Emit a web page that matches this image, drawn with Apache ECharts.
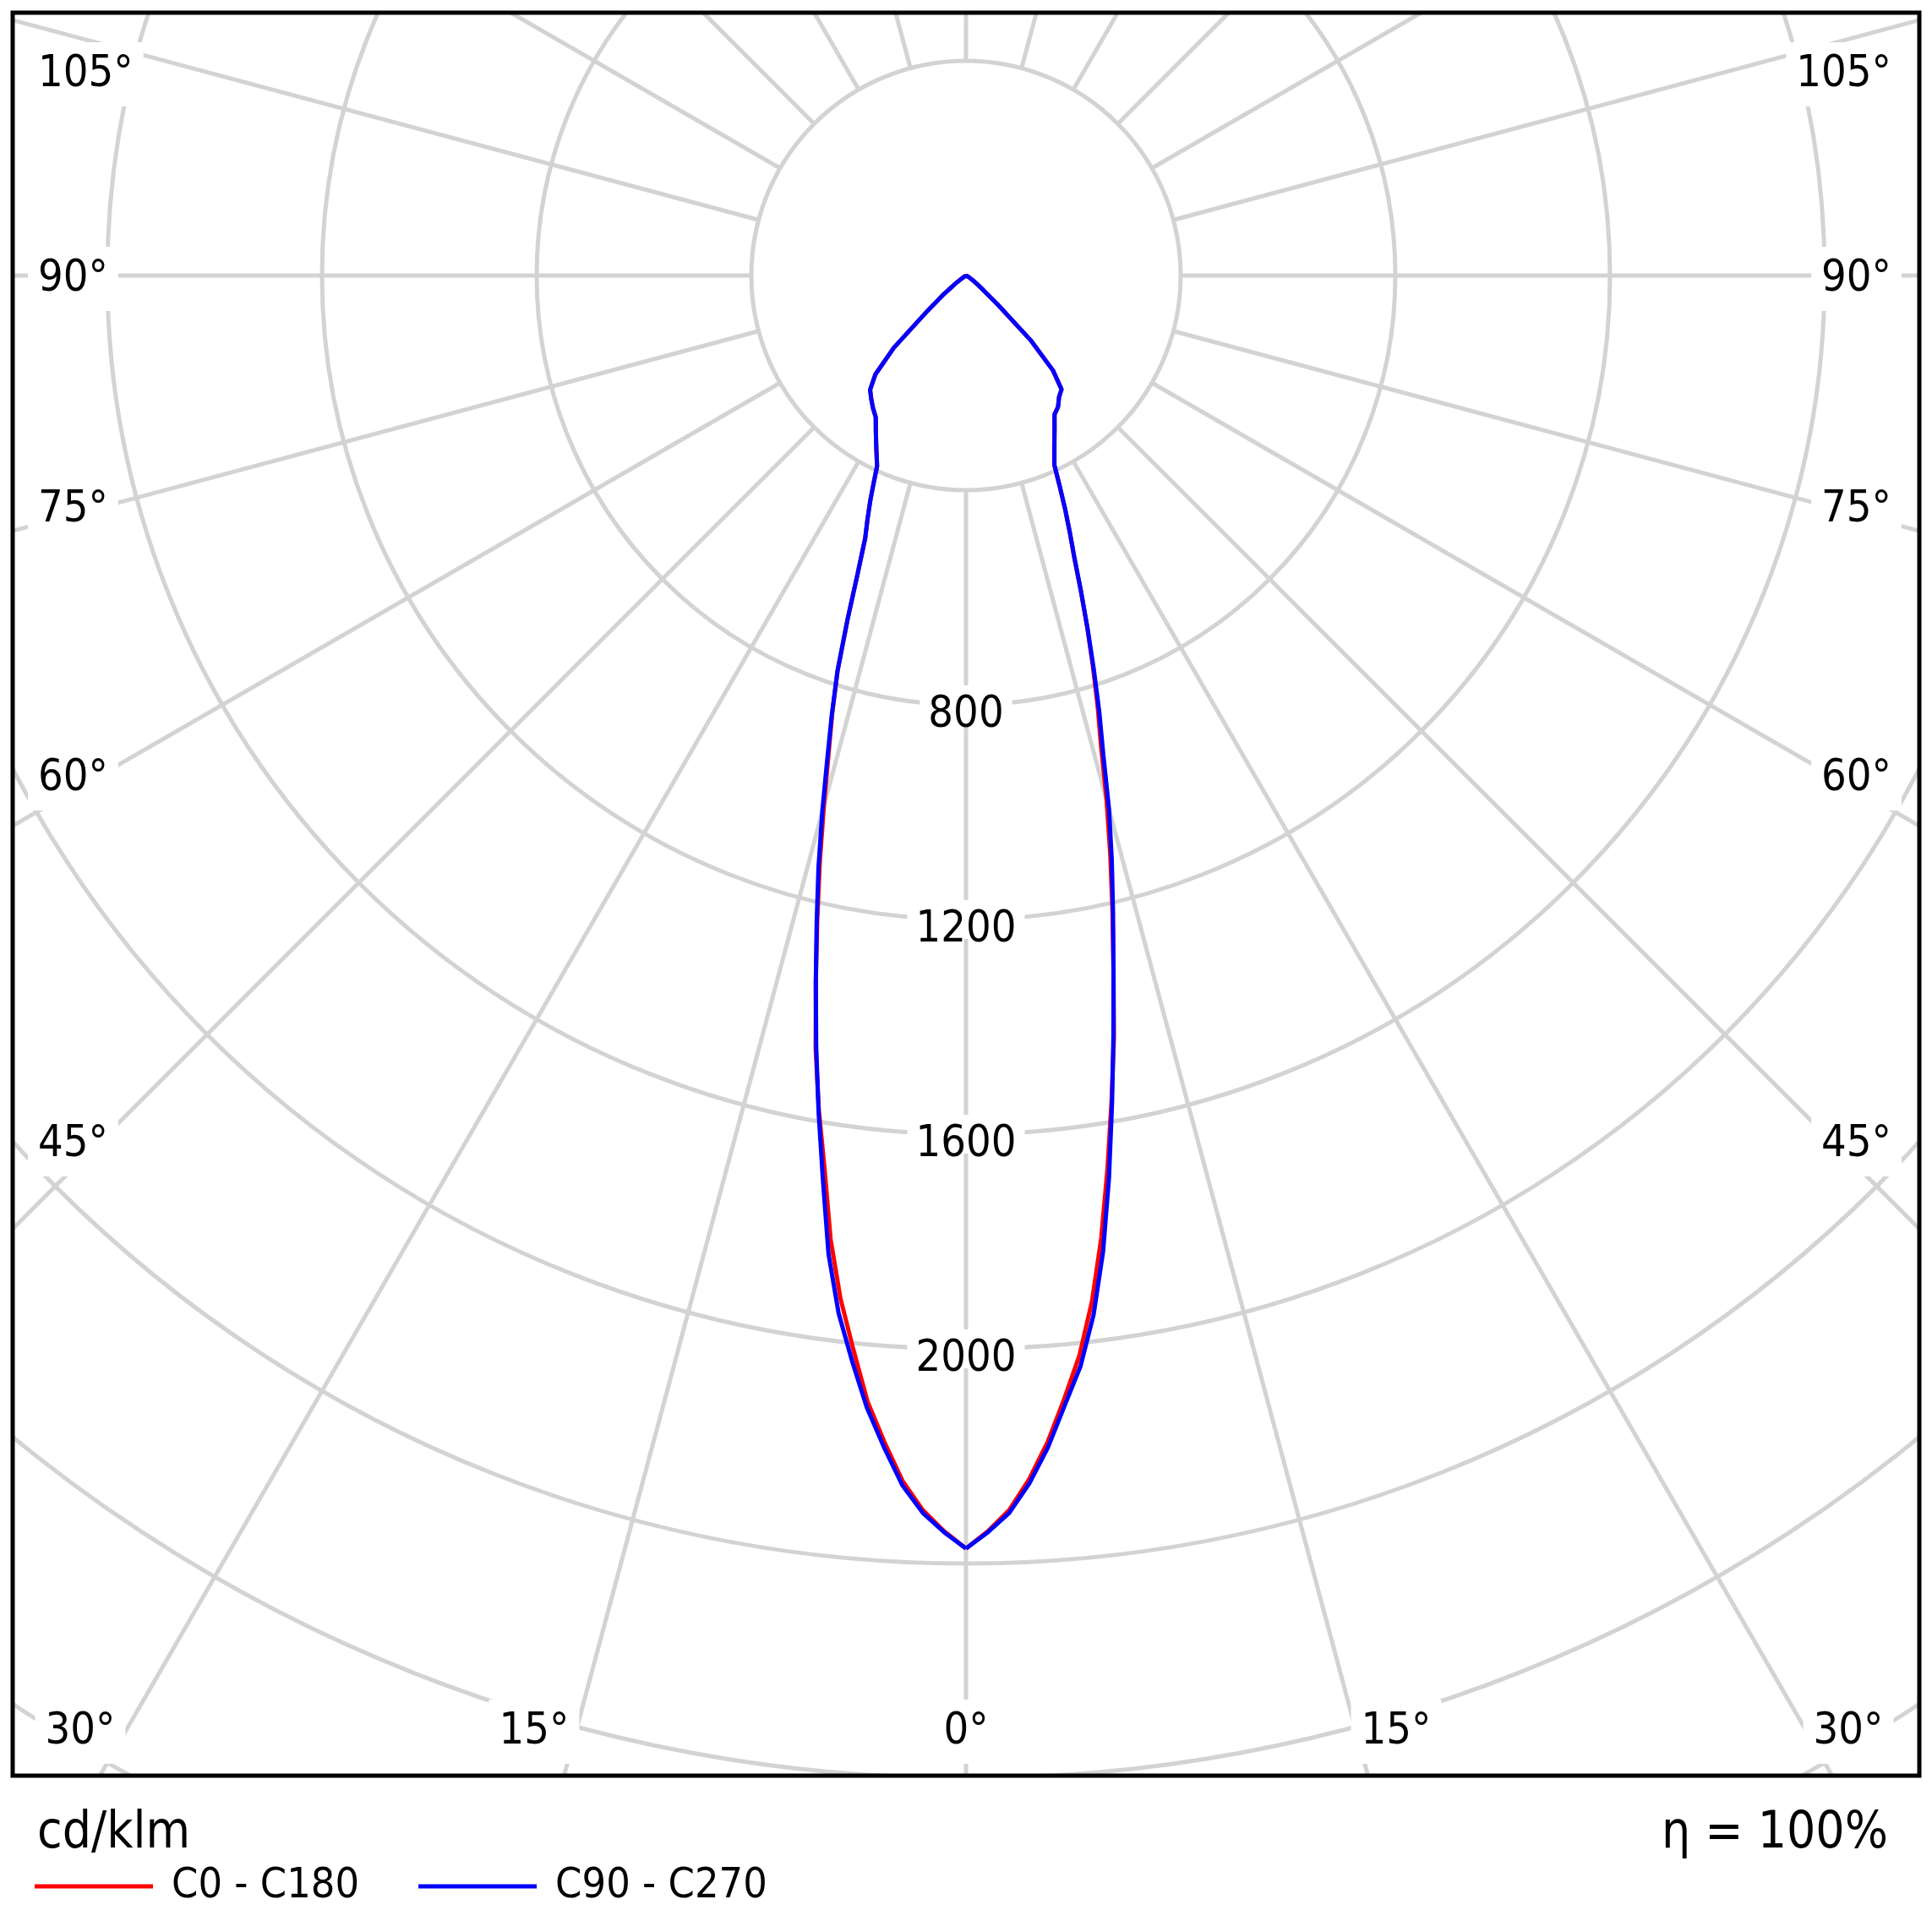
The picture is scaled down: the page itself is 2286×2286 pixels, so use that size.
<!DOCTYPE html>
<html lang="en">
<head>
<meta charset="utf-8" />
<title>Light distribution curve</title>
<style>
    html, body { margin: 0; padding: 0; background: #fff; }
    #main { width: 2286px; height: 2286px; }
</style>
</head>
<body>
<div id="main"></div>

<script src="https://cdn.jsdelivr.net/npm/echarts@6/dist/echarts.min.js"></script>
<script type="text/javascript">
    // gamma angles, degrees from nadir
    var gamma = [0, 1, 2, 3, 4, 5, 6, 7, 8, 9, 10, 11, 12, 13, 14, 15, 16, 17, 18, 19, 20, 21, 22, 23, 24, 25,
        27.5, 30, 32.5, 35, 37.5, 40, 42.5, 45, 47.5, 50, 52.5, 55, 60, 70, 80, 90, 180];
    // cd/klm
    var c0 = [2372, 2340, 2302, 2246, 2179, 2101, 2023, 1926, 1811, 1685, 1562, 1445, 1322, 1213, 1111, 1012, 913, 839, 765, 694, 626, 563, 516, 472, 428, 389,
        356, 330, 307, 299, 285, 277, 240, 170, 80, 42, 25, 15, 6, 2, 0, 0, 0];
    var c180 = [2372, 2340, 2302, 2250, 2179, 2106, 2011, 1920, 1813, 1685, 1579, 1468, 1346, 1232, 1126, 1023, 930, 852, 774, 678, 589, 524, 490, 457, 423, 392,
        362, 336, 313, 302, 290, 278, 250, 190, 96, 54, 25, 10, 3, 0, 0, 0, 0];
    var c90 = [2372, 2342, 2307, 2254, 2189, 2113, 2043, 1951, 1836, 1703, 1567, 1440, 1322, 1218, 1123, 1030, 928, 849, 770, 696, 627, 564, 517, 473, 429, 390,
        357, 330, 307, 299, 285, 277, 240, 170, 80, 42, 25, 15, 6, 2, 0, 0, 0];
    var c270 = [2372, 2342, 2307, 2258, 2189, 2118, 2033, 1948, 1841, 1705, 1582, 1463, 1346, 1237, 1136, 1035, 938, 855, 775, 678, 589, 524, 490, 457, 423, 392,
        362, 336, 313, 302, 290, 278, 250, 190, 96, 54, 25, 10, 3, 0, 0, 0, 0];

    var radiusTicks = [800, 1200, 1600, 2000];
    var sideLabels = ['105°', '90°', '75°', '60°', '45°'];
    var bottomLabels = ['30°', '15°', '0°', '15°', '30°'];
    var legendNames = ['C0 - C180', 'C90 - C270'];
    var unitText = 'cd/klm';
    var etaText = 'η = 100%';

    // layout
    var FONT = "'DejaVu Sans Condensed', 'DejaVu Sans', sans-serif";
    var GRID = '#d3d3d3';
    var cx = 1143, cy = 326;
    var pxPerUnit = 254 / 400;
    var rMax = 3600;
    var sideLabelY = [88, 330, 603, 921, 1354];
    var bottomLabelX = [95, 632, 1143, 1652, 2187];
    var bottomLabelY = 2049;

    // right half goes 0..180, left half comes back as 360-gamma
    function buildCurve(right, left) {
        var pts = [];
        for (var i = 0; i < gamma.length; i++) {
            pts.push([right[i], gamma[i]]);
        }
        for (var j = gamma.length - 1; j >= 0; j--) {
            pts.push([left[j], 360 - gamma[j]]);
        }
        return pts;
    }

    function angleText(t, x, y, align) {
        return {
            type: 'text', x: x, y: y, z: 40,
            style: {
                text: t, align: align, verticalAlign: 'middle',
                fontSize: 52, fontFamily: FONT, fill: '#000',
                backgroundColor: '#fff', padding: 12
            }
        };
    }

    var elements = [
        // white strips outside the frame
        {type: 'rect', z: 50, shape: {x: 0, y: 0, width: 2286, height: 15}, style: {fill: '#fff'}},
        {type: 'rect', z: 50, shape: {x: 0, y: 0, width: 15, height: 2286}, style: {fill: '#fff'}},
        {type: 'rect', z: 50, shape: {x: 2271, y: 0, width: 15, height: 2286}, style: {fill: '#fff'}},
        {type: 'rect', z: 50, shape: {x: 0, y: 2101, width: 2286, height: 185}, style: {fill: '#fff'}},
        // frame
        {type: 'rect', z: 60, shape: {x: 15, y: 15, width: 2256, height: 2086},
            style: {fill: 'none', stroke: '#000', lineWidth: 5}},
        {type: 'text', x: 44, y: 2170, z: 70,
            style: {text: unitText, fontSize: 60, fontFamily: FONT, fill: '#000', align: 'left', verticalAlign: 'middle'}},
        {type: 'text', x: 2234, y: 2170, z: 70,
            style: {text: etaText, fontSize: 60, fontFamily: FONT, fill: '#000', align: 'right', verticalAlign: 'middle'}}
    ];
    sideLabels.forEach(function (t, i) {
        elements.push(angleText(t, 33, sideLabelY[i], 'left'));
        elements.push(angleText(t, 2250, sideLabelY[i], 'right'));
    });
    bottomLabels.forEach(function (t, i) {
        elements.push(angleText(t, bottomLabelX[i], bottomLabelY, 'center'));
    });

    var chart = echarts.init(document.getElementById('main'));
    var option = {
        backgroundColor: '#fff',
        animation: false,
        polar: [
            {center: [cx, cy], radius: rMax * pxPerUnit},
            {center: [cx, cy], radius: [400 * pxPerUnit, rMax * pxPerUnit]}
        ],
        angleAxis: [
            {polarIndex: 0, type: 'value', min: 0, max: 360, startAngle: 270, clockwise: false, show: false},
            {
                polarIndex: 1, type: 'value', min: 0, max: 360, interval: 15, startAngle: 270, clockwise: false, z: 1,
                axisLine: {show: false}, axisTick: {show: false}, axisLabel: {show: false},
                splitLine: {show: true, lineStyle: {color: GRID, width: 5}}
            }
        ],
        radiusAxis: [
            {
                polarIndex: 0, type: 'value', min: 0, max: rMax, interval: 400, z: 1,
                axisLine: {show: false}, axisTick: {show: false},
                splitLine: {show: true, lineStyle: {color: GRID, width: 5}},
                axisLabel: {
                    show: true, customValues: radiusTicks, margin: 0,
                    align: 'center', verticalAlign: 'middle',
                    formatter: function (v) { return '{v|' + v + '}'; },
                    backgroundColor: '#fff', padding: [6, 10, 0, 10],
                    rich: {
                        v: {fontSize: 52, lineHeight: 40, fontFamily: FONT, color: '#000', padding: [18, 0, 0, 0]}
                    }
                }
            },
            {polarIndex: 1, type: 'value', min: 400, max: rMax, show: false}
        ],
        legend: {
            data: legendNames,
            left: 36, top: 2202, z: 70,
            icon: 'rect', itemWidth: 140, itemHeight: 5, itemGap: 70,
            selectedMode: false,
            textStyle: {fontSize: 50, fontFamily: FONT, color: '#000', padding: [0, 0, 0, 17]}
        },
        graphic: {elements: elements},
        series: [
            {
                name: legendNames[0], type: 'line', coordinateSystem: 'polar', polarIndex: 0,
                data: buildCurve(c0, c180), symbol: 'none', z: 3,
                itemStyle: {color: '#ff0000'}, lineStyle: {width: 5, color: '#ff0000'}
            },
            {
                name: legendNames[1], type: 'line', coordinateSystem: 'polar', polarIndex: 0,
                data: buildCurve(c90, c270), symbol: 'none', z: 3,
                itemStyle: {color: '#0000ff'}, lineStyle: {width: 5, color: '#0000ff'}
            }
        ]
    };
    chart.setOption(option);
</script>
</body>
</html>
